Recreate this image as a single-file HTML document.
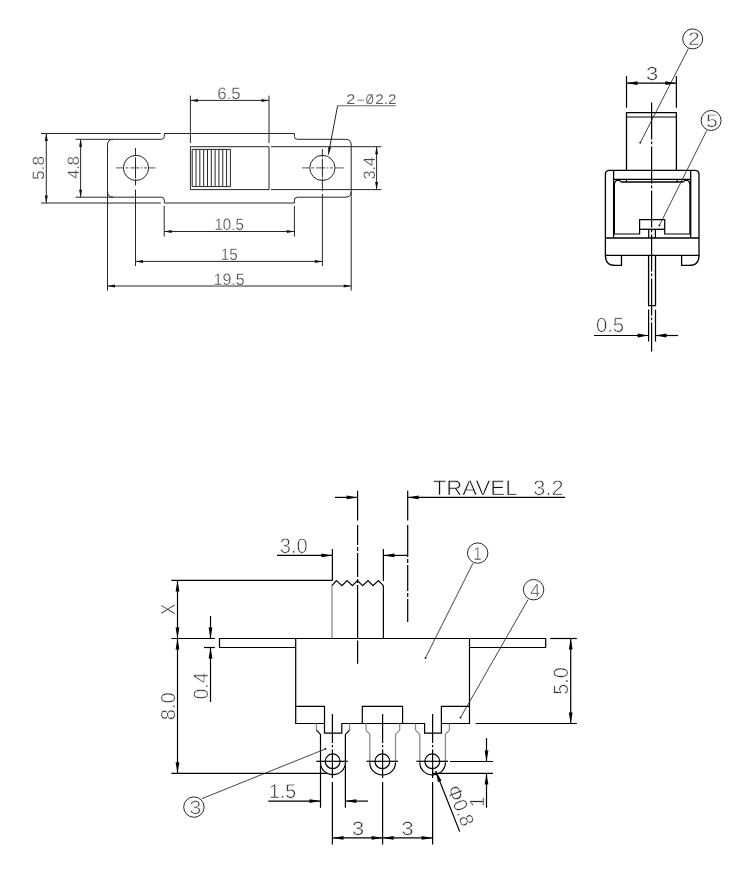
<!DOCTYPE html>
<html><head><meta charset="utf-8"><title>Slide switch drawing</title>
<style>
html,body{margin:0;padding:0;background:#fff;}
svg{display:block;filter:grayscale(1)}
.l{stroke:#262626;stroke-width:1;fill:none;stroke-linecap:butt;stroke-linejoin:miter}
.v2 .l,.v3 .l{stroke:#000;stroke-width:1.2}
.lb{stroke:#000;stroke-width:1.3;fill:none}
.v2 .a,.v3 .a{fill:#000}
.ld{stroke:#222;stroke-width:0.85;fill:none}
.lh{stroke:#555;stroke-width:1;fill:none}
.lu{stroke:#666;stroke-width:1.1;fill:none}
.lg{stroke:#2a2a2a;stroke-width:1;fill:none}
.lg2{stroke:#8a8a8a;stroke-width:1.3;fill:none}
.a{fill:#111;stroke:none}
.t{font-family:"Liberation Sans",sans-serif;fill:#484848;stroke:#fff;paint-order:fill stroke;text-rendering:geometricPrecision}
.tk{fill:#2c2c2c}
.tl{fill:#5a5a5a}
.tb{fill:#444}
.td{fill:#111}
</style></head>
<body>
<svg width="750" height="889" viewBox="0 0 750 889">
<rect x="0" y="0" width="750" height="889" fill="#fff"/>
<g class="v1">
<path class="l" d="M107.5,145.10000000000002 Q107.5,139.3 113.3,139.3 L161.3,139.3 Q164.3,139.3 164.3,136.3 L164.3,133.5 L294.4,133.5 L294.4,136.3 Q294.4,139.3 297.4,139.3 L345.4,139.3 Q351.2,139.3 351.2,145.10000000000002 L351.2,191.39999999999998 Q351.2,197.2 345.4,197.2 L297.4,197.2 Q294.4,197.2 294.4,200.2 L294.4,203.0 L164.3,203.0 L164.3,200.2 Q164.3,197.2 161.3,197.2 L113.3,197.2 Q107.5,197.2 107.5,191.39999999999998 Z" />
<line class="l" x1="41" y1="133.5" x2="160.8" y2="133.5" />
<line class="l" x1="41" y1="203.0" x2="160.8" y2="203.0" />
<line class="l" x1="46.3" y1="133.5" x2="46.3" y2="203.0" />
<polygon class="a" points="46.30,133.50 47.80,141.00 44.80,141.00"/>
<polygon class="a" points="46.30,203.00 44.80,195.50 47.80,195.50"/>
<text class="t" font-size="16.43" stroke-width="0.26" transform="translate(44.30,179.99) rotate(-90.00) scale(1.052,1)">5.8</text>
<line class="l" x1="75.6" y1="139.3" x2="113.3" y2="139.3" />
<line class="l" x1="75.6" y1="197.2" x2="113.3" y2="197.2" />
<line class="l" x1="80.6" y1="139.3" x2="80.6" y2="197.2" />
<polygon class="a" points="80.60,139.30 82.10,146.80 79.10,146.80"/>
<polygon class="a" points="80.60,197.20 79.10,189.70 82.10,189.70"/>
<text class="t" font-size="16.43" stroke-width="0.26" transform="translate(78.90,178.87) rotate(-90.00) scale(1.001,1)">4.8</text>
<circle class="l" cx="136.0" cy="167.9" r="12.6"/>
<line class="lh" x1="116.2" y1="167.9" x2="155.4" y2="167.9" stroke-dasharray="7.5 1.8 3 1.8 9 1.6 1.6 1.6 3 1.8 9"/>
<line class="l" x1="135.5" y1="148" x2="135.5" y2="266" stroke-dasharray="8 1.4 21 1 6 4.2 100"/>
<circle class="l" cx="322.4" cy="167.9" r="12.6"/>
<line class="lh" x1="302" y1="167.9" x2="344.6" y2="167.9" stroke-dasharray="7.5 1.8 3 1.8 9 1.6 1.6 1.6 3 1.8 9"/>
<line class="l" x1="322.4" y1="149.2" x2="322.4" y2="266" stroke-dasharray="8 1.6 18.4 1.2 12.8 2.8 100"/>
<path class="l" d="M190.4,146.7 H269 V189.6 H190.4 Z" />
<path class="l" d="M192.2,149.4 H230.4 V186.6 H192.2 Z" stroke-width="1.3"/>
<line class="l" x1="196.02" y1="149.4" x2="196.02" y2="186.6" />
<line class="l" x1="199.84" y1="149.4" x2="199.84" y2="186.6" />
<line class="l" x1="203.66" y1="149.4" x2="203.66" y2="186.6" />
<line class="l" x1="207.48" y1="149.4" x2="207.48" y2="186.6" />
<line class="l" x1="211.30" y1="149.4" x2="211.30" y2="186.6" />
<line class="l" x1="215.12" y1="149.4" x2="215.12" y2="186.6" />
<line class="l" x1="218.94" y1="149.4" x2="218.94" y2="186.6" />
<line class="l" x1="222.76" y1="149.4" x2="222.76" y2="186.6" />
<line class="l" x1="226.58" y1="149.4" x2="226.58" y2="186.6" />
<line class="l" x1="271" y1="146.7" x2="381.3" y2="146.7" />
<line class="l" x1="271" y1="189.6" x2="381.3" y2="189.6" />
<line class="l" x1="376.6" y1="146.7" x2="376.6" y2="189.6" />
<polygon class="a" points="376.60,146.70 378.10,154.20 375.10,154.20"/>
<polygon class="a" points="376.60,189.60 375.10,182.10 378.10,182.10"/>
<text class="t" font-size="16.43" stroke-width="0.26" transform="translate(374.60,179.61) rotate(-90.00) scale(0.992,1)">3.4</text>
<line class="l" x1="190.4" y1="95.6" x2="190.4" y2="143" />
<line class="l" x1="269" y1="95.6" x2="269" y2="143" />
<line class="l" x1="190.4" y1="100.4" x2="269" y2="100.4" />
<polygon class="a" points="190.40,100.40 197.90,98.90 197.90,101.90"/>
<polygon class="a" points="269.00,100.40 261.50,101.90 261.50,98.90"/>
<text class="t" font-size="16.43" stroke-width="0.26" transform="translate(217.15,98.60) scale(1.030,1)">6.5</text>
<line class="l" x1="164.2" y1="206" x2="164.2" y2="236.6" />
<line class="l" x1="294.4" y1="206" x2="294.4" y2="236.6" />
<line class="l" x1="164.2" y1="231.5" x2="294.4" y2="231.5" />
<polygon class="a" points="164.20,231.50 171.70,230.00 171.70,233.00"/>
<polygon class="a" points="294.40,231.50 286.90,233.00 286.90,230.00"/>
<text class="t" font-size="16.43" stroke-width="0.26" transform="translate(214.47,229.80) scale(0.918,1)">10.5</text>
<line class="l" x1="135.5" y1="261.4" x2="322.4" y2="261.4" />
<polygon class="a" points="135.50,261.40 143.00,259.90 143.00,262.90"/>
<polygon class="a" points="322.40,261.40 314.90,262.90 314.90,259.90"/>
<text class="t" font-size="16.43" stroke-width="0.26" transform="translate(220.65,259.80) scale(0.930,1)">15</text>
<line class="l" x1="107.5" y1="191.39999999999998" x2="107.5" y2="290.6" />
<line class="l" x1="351.2" y1="191.39999999999998" x2="351.2" y2="290.6" />
<line class="l" x1="107.5" y1="286" x2="351.2" y2="286" />
<polygon class="a" points="107.50,286.00 115.00,284.50 115.00,287.50"/>
<polygon class="a" points="351.20,286.00 343.70,287.50 343.70,284.50"/>
<text class="t" font-size="16.43" stroke-width="0.26" transform="translate(213.60,284.60) scale(0.971,1)">19.5</text>
<line class="lu" x1="337.6" y1="105.8" x2="395.8" y2="105.8" />
<line class="l" x1="337.6" y1="105.8" x2="328.3" y2="154.7" />
<polygon class="a" points="328.30,154.70 328.23,147.05 331.17,147.61"/>
<text class="t tl" font-size="13.86" stroke-width="0.05" y="103.5"><tspan x="346.38" textLength="9.17" lengthAdjust="spacingAndGlyphs">2</tspan><tspan x="356.29" textLength="8.93" lengthAdjust="spacingAndGlyphs">-</tspan><tspan x="365.82" textLength="7.94" lengthAdjust="spacingAndGlyphs">Ø</tspan><tspan x="375.24" textLength="21.23" lengthAdjust="spacingAndGlyphs">2.2</tspan></text>
</g>
<g class="v2">
<path class="lb" d="M626.5,170.3 V112.6 H676.4 V170.3" />
<line class="l" x1="626.5" y1="117" x2="676.4" y2="117" />
<line class="l" x1="626.5" y1="76" x2="626.5" y2="107.7" />
<line class="l" x1="676.4" y1="76" x2="676.4" y2="107.7" />
<line class="l" x1="626.5" y1="83.2" x2="676.4" y2="83.2" />
<polygon class="a" points="626.50,83.20 637.50,81.30 637.50,85.10"/>
<polygon class="a" points="676.40,83.20 665.40,85.10 665.40,81.30"/>
<text class="t tk" font-size="18.86" stroke-width="0.47" transform="translate(645.98,79.50) scale(1.161,1)">3</text>
<line class="l" x1="651.6" y1="102.4" x2="651.6" y2="351.5" stroke-dasharray="37 2.2 2.6 2.2"/>
<path class="lb" d="M605.4,238 V174.3 Q605.4,170.3 609.4,170.3 H695 Q699,170.3 699,174.3 V238" />
<line class="lb" x1="613.6" y1="170.3" x2="613.6" y2="238" />
<line class="lb" x1="690.7" y1="170.3" x2="690.7" y2="238" />
<line class="lb" x1="613.6" y1="179.4" x2="690.7" y2="179.4" />
<path class="lb" d="M621.3,182 H683" />
<line class="l" x1="626.4" y1="179.4" x2="626.4" y2="182" />
<line class="l" x1="677.2" y1="179.4" x2="677.2" y2="182" />
<path class="l" d="M614.4,184.5 Q614.6,180.6 617.5,180.3 L619.3,180.3 L621.3,182" />
<path class="l" d="M689.9,184.5 Q689.7,180.6 686.8,180.3 L685,180.3 L683,182" />
<path class="l" d="M614.4,183 V234 H639.6 V219.6 H664.7 V234 H689.9 V183" stroke-width="1.9"/>
<line class="lb" x1="639.6" y1="229.3" x2="664.7" y2="229.3" />
<line class="l" x1="648.7" y1="229.3" x2="648.7" y2="238" />
<line class="l" x1="655.4" y1="229.3" x2="655.4" y2="238" />
<line class="lb" x1="605.4" y1="238" x2="699" y2="238" />
<path class="lb" d="M605.4,238 V255.4 H699 V238" />
<path class="lb" d="M605.4,255.4 Q605.4,265.4 615.4,265.4 H621.5 V255.4" />
<path class="lb" d="M699,255.4 Q699,265.4 689,265.4 H681.6 V255.4" />
<path class="lb" d="M648.6,255.4 V305.6 H655.5 V255.4" />
<line class="l" x1="648.6" y1="309.6" x2="648.6" y2="341.6" />
<line class="l" x1="655.5" y1="309.6" x2="655.5" y2="341.6" />
<line class="l" x1="594" y1="335.5" x2="648.6" y2="335.5" />
<polygon class="a" points="648.60,335.50 637.60,337.40 637.60,333.60"/>
<line class="l" x1="655.5" y1="335.5" x2="678" y2="335.5" />
<polygon class="a" points="655.50,335.50 666.50,333.60 666.50,337.40"/>
<text class="t tk" font-size="20.57" stroke-width="0.61" transform="translate(595.89,332.00) scale(0.987,1)">0.5</text>
<circle class="lg" cx="692.7" cy="38.9" r="10"/>
<text class="t tb" font-size="18.29" stroke-width="0.42" transform="translate(688.18,45.30) scale(1.118,1)">2</text>
<line class="ld" x1="688.4" y1="48.5" x2="640.3" y2="142.7" />
<circle class="a" cx="640.3" cy="142.7" r="0.9"/>
<circle class="lg" cx="711.1" cy="120.5" r="10"/>
<text class="t tb" font-size="18.29" stroke-width="0.42" transform="translate(705.95,127.20) scale(1.163,1)">5</text>
<line class="ld" x1="706.8" y1="130.4" x2="659.4" y2="225.4" />
<circle class="a" cx="659.4" cy="225.4" r="0.9"/>
</g>
<g class="v3">
<path class="l" d="M295.7,638.5 H219.5 V647.5 H295.7" />
<path class="l" d="M469.5,638.5 H545.7 V647.5 H469.5" />
<path class="l" d="M295.7,638.5 H469.5 V723.5 H441.4 V706.3 H469.5" />
<path class="l" d="M295.7,638.5 V723.5 H324.5" />
<path class="l" d="M295.7,706.3 H324.5 V733.2 H341.8 V723.5 H362.3 V706.3 H402.6 V723.5 H424.6 V733.2 H441.4 V723.5" />
<line class="l" x1="362.3" y1="723.5" x2="402.6" y2="723.5" />
<line class="lg2" x1="332" y1="585.6" x2="332" y2="638.5" />
<line class="l" x1="383.4" y1="585.6" x2="383.4" y2="638.5" />
<path class="l" d="M332,585.6 L336.4,580.6 L342,585.6 L347,580.6 L352.4,585.6 L357.4,580.6 L362.6,585.6 L368,580.6 L373,585.6 L378.4,580.6 L383.4,585.6" />
<line class="l" x1="357.6" y1="490.8" x2="357.6" y2="663.7" stroke-dasharray="29.7 4.5 20 2 4 2 24 2 4 2 53 2.5 100"/>
<line class="l" x1="407.7" y1="490.8" x2="407.7" y2="622" stroke-dasharray="29.7 4.5 32 2 4 2 26 2 4 2 40"/>
<line class="l" x1="335" y1="497.4" x2="357.6" y2="497.4" />
<polygon class="a" points="357.60,497.40 346.60,499.30 346.60,495.50"/>
<line class="l" x1="407.7" y1="497.4" x2="565" y2="497.4" />
<polygon class="a" points="407.70,497.40 418.70,495.50 418.70,499.30"/>
<text class="t tk" font-size="21.00" stroke-width="0.64" y="494.5"><tspan class="td" x="432.70" textLength="84.03" lengthAdjust="spacingAndGlyphs">TRAVEL</tspan> <tspan x="533.28" textLength="30.31" lengthAdjust="spacingAndGlyphs">3.2</tspan></text>
<line class="l" x1="277" y1="555.4" x2="332.4" y2="555.4" />
<polygon class="a" points="332.40,555.40 321.40,557.30 321.40,553.50"/>
<line class="l" x1="383.4" y1="555.4" x2="407.7" y2="555.4" />
<polygon class="a" points="383.40,555.40 394.40,553.50 394.40,557.30"/>
<line class="l" x1="332.4" y1="549" x2="332.4" y2="580.4" />
<line class="l" x1="383.4" y1="549" x2="383.4" y2="581" />
<text class="t tk" font-size="21.00" stroke-width="0.64" transform="translate(279.74,552.50) scale(0.960,1)">3.0</text>
<line class="l" x1="171.4" y1="580.4" x2="332.4" y2="580.4" />
<line class="l" x1="171.4" y1="638.5" x2="214.9" y2="638.5" />
<line class="l" x1="171.4" y1="773.3" x2="327.5" y2="773.3" />
<line class="l" x1="177.5" y1="580.4" x2="177.5" y2="773.3" />
<polygon class="a" points="177.50,580.40 179.40,591.40 175.60,591.40"/>
<polygon class="a" points="177.50,638.50 175.60,627.50 179.40,627.50"/>
<polygon class="a" points="177.50,638.50 179.40,649.50 175.60,649.50"/>
<polygon class="a" points="177.50,773.30 175.60,762.30 179.40,762.30"/>
<text class="t tk" font-size="20.29" stroke-width="0.58" transform="translate(174.70,615.08) rotate(-90.00) scale(0.831,1)">X</text>
<text class="t tk" font-size="20.29" stroke-width="0.58" transform="translate(174.70,720.36) rotate(-90.00) scale(0.997,1)">8.0</text>
<line class="l" x1="210.5" y1="616" x2="210.5" y2="638.5" />
<polygon class="a" points="210.50,638.50 208.60,627.50 212.40,627.50"/>
<line class="l" x1="204" y1="647.5" x2="214.9" y2="647.5" />
<line class="l" x1="210.5" y1="647.5" x2="210.5" y2="702" />
<polygon class="a" points="210.50,647.50 212.40,658.50 208.60,658.50"/>
<text class="t tk" font-size="20.86" stroke-width="0.63" transform="translate(208.00,699.58) rotate(-90.00) scale(0.935,1)">0.4</text>
<line class="l" x1="550.1" y1="638.5" x2="576.9" y2="638.5" />
<line class="l" x1="475.6" y1="723.5" x2="576.9" y2="723.5" />
<line class="l" x1="570.7" y1="638.5" x2="570.7" y2="723.5" />
<polygon class="a" points="570.70,638.50 572.60,649.50 568.80,649.50"/>
<polygon class="a" points="570.70,723.50 568.80,712.50 572.60,712.50"/>
<text class="t tk" font-size="20.86" stroke-width="0.63" transform="translate(567.90,694.69) rotate(-90.00) scale(0.946,1)">5.0</text>
<path class="lg2" d="M316.4,723.5 V730.1" />
<path class="lg2" d="M349.5,723.5 V730.1" />
<path class="l" d="M316.4,730.1 L320.5,734.4 V763.3" />
<path class="l" d="M349.5,730.1 L345.4,734.4 V763.3" />
<path class="l" d="M320.5,762.8 A12.449999999999989,11.74999999999999 0 0 0 345.4,762.8" />
<circle class="l" cx="332.65" cy="761.3" r="7.4"/>
<line class="l" x1="316.2" y1="761.3" x2="347.79999999999995" y2="761.3" />
<line class="l" x1="332.4" y1="714" x2="332.4" y2="844.6" stroke-dasharray="29 2 2.2 2.4 28.4 4 100"/>
<path class="lg2" d="M366,723.5 V730.1" />
<path class="lg2" d="M399.7,723.5 V730.1" />
<path class="lg2" d="M366,730.1 L369.8,734.4 V763.3" />
<path class="lg2" d="M399.7,730.1 L395.5,734.4 V763.3" />
<path class="l" d="M369.8,762.8 A12.849999999999994,12.149999999999995 0 0 0 395.5,762.8" />
<circle class="l" cx="382.34999999999997" cy="761.3" r="7.4"/>
<line class="l" x1="366.40000000000003" y1="761.3" x2="398.0" y2="761.3" />
<line class="l" x1="382.6" y1="714" x2="382.6" y2="844.6" stroke-dasharray="29 2 2.2 2.4 28.4 4 100"/>
<path class="lg2" d="M415.5,723.5 V730.1" />
<path class="lg2" d="M449.4,723.5 V730.1" />
<path class="lg2" d="M415.5,730.1 L419.8,734.4 V763.3" />
<path class="lg2" d="M449.4,730.1 L445.4,734.4 V763.3" />
<path class="l" d="M419.8,762.8 A12.799999999999983,12.099999999999984 0 0 0 445.4,762.8" />
<circle class="l" cx="432.3" cy="761.3" r="7.4"/>
<line class="l" x1="416.40000000000003" y1="761.3" x2="448.0" y2="761.3" />
<line class="l" x1="432.6" y1="714" x2="432.6" y2="844.6" stroke-dasharray="29 2 2.2 2.4 28.4 4 100"/>
<line class="l" x1="320.5" y1="765.5" x2="320.5" y2="807.8" />
<line class="l" x1="345.4" y1="765.5" x2="345.4" y2="807.8" />
<line class="l" x1="268.3" y1="801.1" x2="320.5" y2="801.1" />
<polygon class="a" points="320.50,801.10 309.50,803.00 309.50,799.20"/>
<line class="l" x1="345.4" y1="801.1" x2="368" y2="801.1" />
<polygon class="a" points="345.40,801.10 356.40,799.20 356.40,803.00"/>
<text class="t tk" font-size="20.00" stroke-width="0.56" transform="translate(268.94,797.70) scale(0.973,1)">1.5</text>
<line class="l" x1="332.5" y1="837.9" x2="432.6" y2="837.9" />
<polygon class="a" points="332.50,837.90 343.50,836.00 343.50,839.80"/>
<polygon class="a" points="382.60,837.90 371.60,839.80 371.60,836.00"/>
<polygon class="a" points="382.60,837.90 393.60,836.00 393.60,839.80"/>
<polygon class="a" points="432.60,837.90 421.60,839.80 421.60,836.00"/>
<text class="t tk" font-size="19.29" stroke-width="0.50" transform="translate(351.98,834.50) scale(1.135,1)">3</text>
<text class="t tk" font-size="19.29" stroke-width="0.50" transform="translate(401.48,834.50) scale(1.135,1)">3</text>
<line class="l" x1="450" y1="761.5" x2="493" y2="761.5" />
<line class="l" x1="432.6" y1="773.4" x2="493" y2="773.4" />
<line class="l" x1="486.5" y1="738" x2="486.5" y2="761.5" />
<polygon class="a" points="486.50,761.50 484.60,750.50 488.40,750.50"/>
<line class="l" x1="486.5" y1="773.4" x2="486.5" y2="807.8" />
<polygon class="a" points="486.50,773.40 488.40,784.40 484.60,784.40"/>
<text class="t tk" font-size="20.57" stroke-width="0.61" transform="translate(483.70,806.99) rotate(-90.00) scale(0.899,1)">1</text>
<line class="l" x1="435.7" y1="771" x2="459.7" y2="831.6" />
<polygon class="a" points="435.70,771.00 441.52,780.53 437.98,781.93"/>
<text class="t tk" font-size="19.71" stroke-width="0.54" transform="translate(446.59,788.57) rotate(68.39) scale(0.979,1)">Φ0.8</text>
<circle class="lg" cx="477.7" cy="553.1" r="10.2"/>
<text class="t tb" font-size="18.57" stroke-width="0.44" transform="translate(473.61,559.70) scale(0.784,1)">1</text>
<line class="ld" x1="472.9" y1="563.3" x2="425.5" y2="657.9" />
<circle class="a" cx="425.5" cy="657.9" r="0.9"/>
<circle class="lg" cx="533.6" cy="589.7" r="10.2"/>
<text class="t tb" font-size="19.00" stroke-width="0.48" transform="translate(530.30,597.00) scale(0.938,1)">4</text>
<line class="ld" x1="528" y1="599.7" x2="460.5" y2="717.6" />
<circle class="a" cx="460.5" cy="717.6" r="0.9"/>
<circle class="lg" cx="193.9" cy="807.1" r="10.2"/>
<text class="t tb" font-size="19.29" stroke-width="0.50" transform="translate(189.50,814.30) scale(1.103,1)">3</text>
<line class="ld" x1="201.8" y1="798.7" x2="325.5" y2="748.9" />
<circle class="a" cx="325.5" cy="748.9" r="0.9"/>
</g>
</svg>
</body></html>
